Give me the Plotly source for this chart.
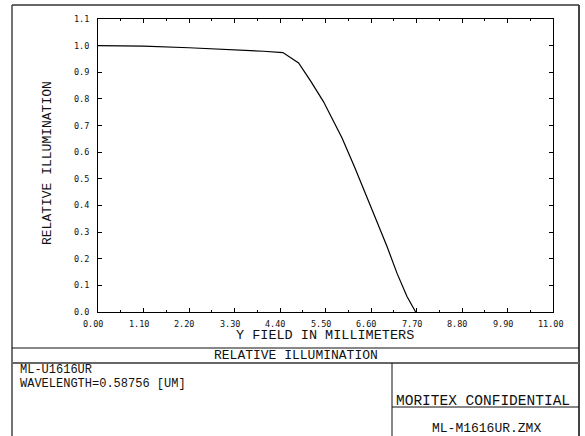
import plotly.graph_objects as go

# ---- data ----
field_mm = [0.0, 1.1, 2.2, 3.3, 4.0, 4.47, 4.85, 5.15, 5.45, 5.7, 5.9, 6.2,
            6.42, 6.66, 6.99, 7.23, 7.47, 7.6, 7.68]
rel_illum = [1.0, 0.998, 0.992, 0.985, 0.979, 0.974, 0.935, 0.865, 0.79, 0.714,
             0.653, 0.545, 0.465, 0.371, 0.245, 0.145, 0.058, 0.02, 0.0]
x_ticks = [0.0, 1.1, 2.2, 3.3, 4.4, 5.5, 6.6, 7.7, 8.8, 9.9, 11.0]
x_tick_labels = ["0.00", "1.10", "2.20", "3.30", "4.40", "5.50", "6.60",
                 "7.70", "8.80", "9.90", "11.00"]
y_ticks = [0.0, 0.1, 0.2, 0.3, 0.4, 0.5, 0.6, 0.7, 0.8, 0.9, 1.0, 1.1]
y_tick_labels = ["0.0", "0.1", "0.2", "0.3", "0.4", "0.5", "0.6", "0.7",
                 "0.8", "0.9", "1.0", "1.1"]

W, H = 585, 436
L, R, T, B = 98, 553, 19, 312  # plot area in pixels


def px(x):
    return (x - L) / (R - L)


def py(y):
    return (B - y) / (B - T)


MONO = "Liberation Mono, DejaVu Sans Mono, monospace"
TICKF = "DejaVu Sans Mono, monospace"

fig = go.Figure()
fig.add_trace(go.Scatter(x=field_mm, y=rel_illum, mode="lines",
                         line=dict(color="black", width=1.2),
                         showlegend=False, hoverinfo="skip"))

fig.update_layout(
    width=W, height=H,
    margin=dict(l=L, r=W - R, t=T, b=H - B, pad=0),
    paper_bgcolor="white", plot_bgcolor="white",
    xaxis=dict(range=[0, 11], tickvals=x_ticks, showticklabels=False,
               ticks="inside", ticklen=4, tickcolor="black", tickwidth=1,
               showline=True, linecolor="black", linewidth=1,
               mirror="allticks", showgrid=False, zeroline=False,
               minor=dict(ticks="inside", ticklen=2, tick0=0, dtick=0.55,
                          tickcolor="black", showgrid=False)),
    yaxis=dict(range=[0, 1.1], tickvals=y_ticks, ticktext=y_tick_labels,
               tickfont=dict(family=TICKF, size=8.5, color="#111"),
               ticks="inside", ticklen=4, tickcolor="black", tickwidth=1,
               ticklabelstandoff=6,
               showline=True, linecolor="black", linewidth=1,
               mirror="allticks", showgrid=False, zeroline=False),
)

ann = []
for v, t in zip(x_ticks, x_tick_labels):
    ann.append(dict(x=v, xref="x", y=0, yref="paper", text=t, showarrow=False,
                    xanchor="left", yanchor="top", xshift=-17, yshift=-5,
                    font=dict(family=TICKF, size=8.5, color="#111")))


def label(x, y, text, size=13, xanchor="center", angle=0):
    ann.append(dict(x=px(x), y=py(y), xref="paper", yref="paper", text=text,
                    showarrow=False, xanchor=xanchor, yanchor="middle",
                    textangle=angle,
                    font=dict(family=MONO, size=size, color="#111")))


label(47, 163, "RELATIVE ILLUMINATION", angle=-90)
label(325, 336, "Y FIELD IN MILLIMETERS", size=13.5)
label(296, 355.5, "RELATIVE ILLUMINATION")
label(18, 370, "ML-U1616UR", size=12, xanchor="left")
label(18, 383.5, "WAVELENGTH=0.58756 [UM]", size=12, xanchor="left")
label(394, 400.5, "MORITEX CONFIDENTIAL", size=14.5, xanchor="left")
label(486, 428.5, "ML-M1616UR.ZMX")
fig.update_layout(annotations=ann)

shapes = []


def line(x0, y0, x1, y1, color="#333", width=1.0):
    shapes.append(dict(type="line", xref="paper", yref="paper",
                       x0=px(x0), y0=py(y0), x1=px(x1), y1=py(y1),
                       line=dict(color=color, width=width)))


line(12, 5, 579, 5, color="#666", width=2)
line(12, 5, 12, 436, color="#444", width=1.5)
line(579, 5, 579, 436, color="#444", width=2)
line(12, 348, 579, 348, color="#111", width=1)
line(12, 363, 579, 363, color="#666", width=2)
line(392, 363, 392, 436, color="#111", width=1)
line(392, 407, 579, 407, color="#111", width=1)
fig.update_layout(shapes=shapes)

fig.write_html("out.html",
               config={"displayModeBar": False},
               post_script="document.body.style.margin='0';"
                           "document.body.style.overflow='hidden';")
